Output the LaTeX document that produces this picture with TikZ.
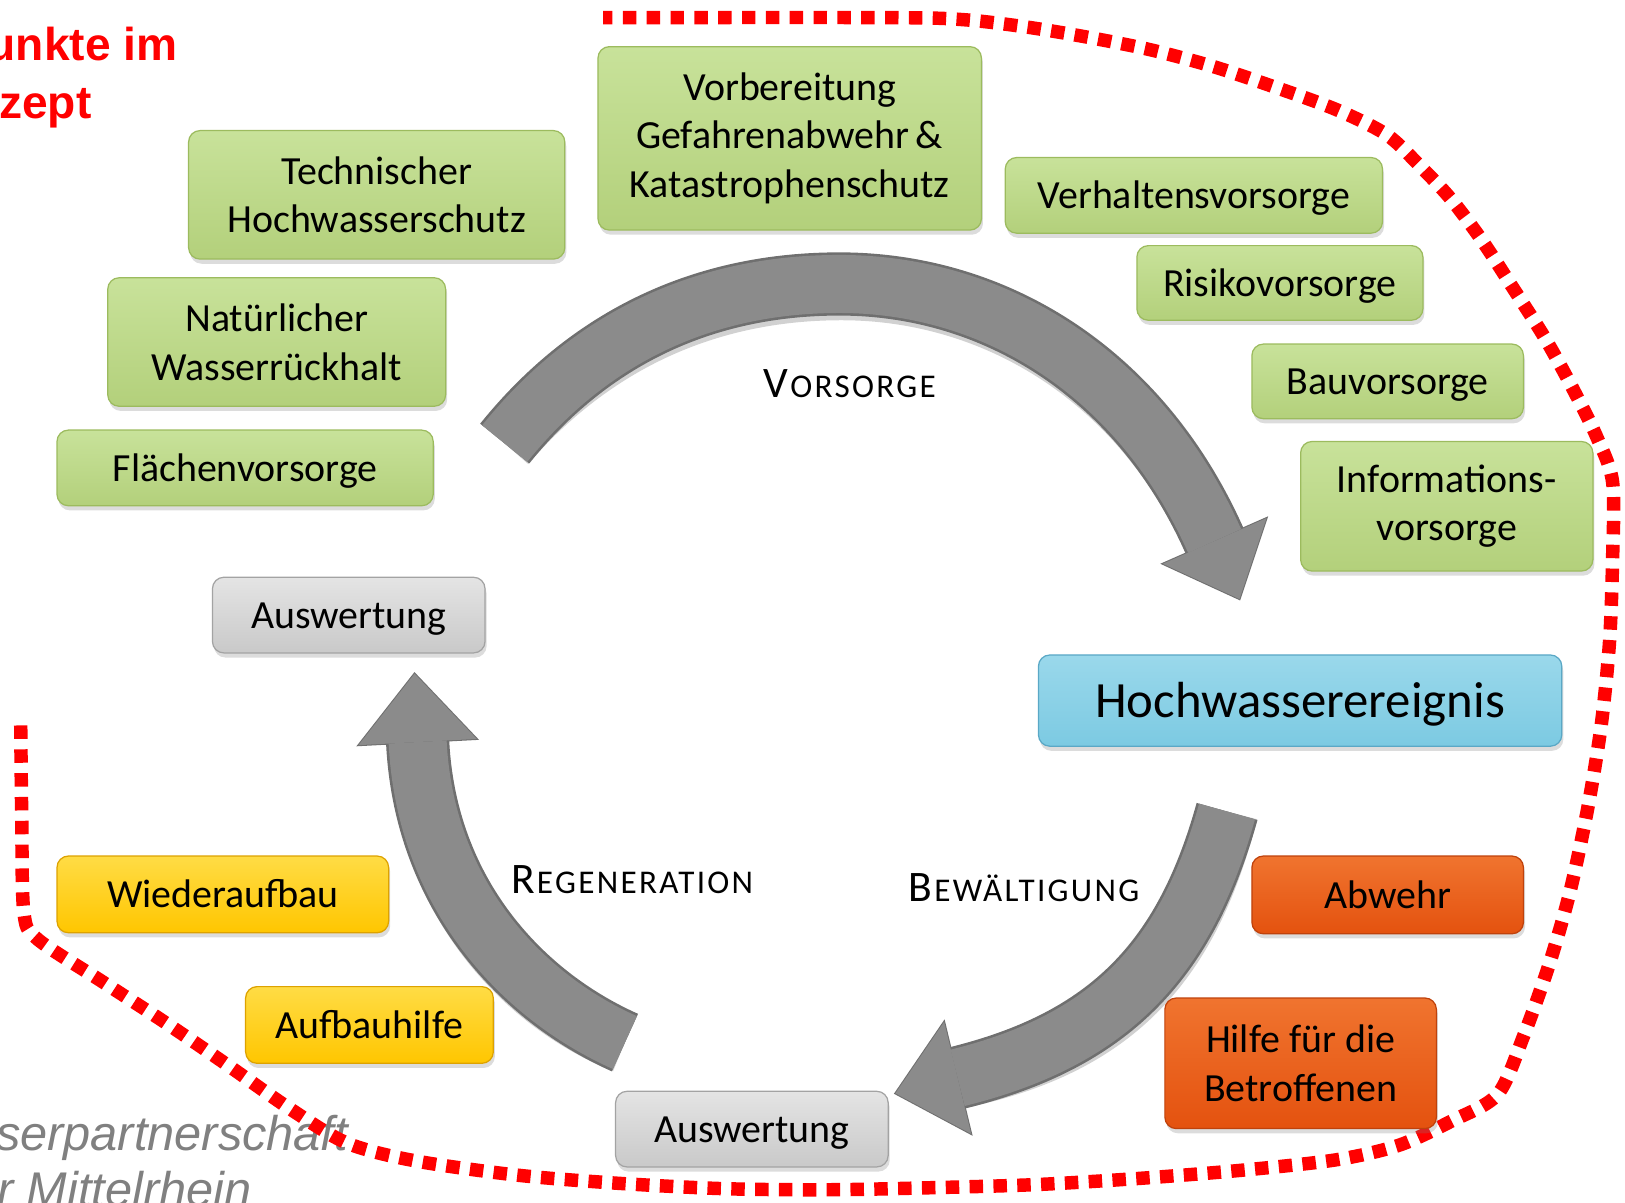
\documentclass[tikz,border=0pt]{standalone}
\usepackage{fontspec}
\setmainfont{Carlito}
\newfontfamily\arialfont{Liberation Sans}
\usetikzlibrary{shadows}
\definecolor{gfill}{HTML}{B3D07B}
\definecolor{gtop}{HTML}{C8E29A}
\definecolor{gdraw}{HTML}{9CBB5E}
\definecolor{bfill}{HTML}{7CCAE2}
\definecolor{btop}{HTML}{9AD8EB}
\definecolor{bdraw}{HTML}{5AA8C6}
\definecolor{yfill}{HTML}{FFC600}
\definecolor{ytop}{HTML}{FFDC45}
\definecolor{ydraw}{HTML}{DDA200}
\definecolor{ofill}{HTML}{E4520F}
\definecolor{otop}{HTML}{F0742F}
\definecolor{odraw}{HTML}{BF420C}
\definecolor{sfill}{HTML}{C9C9C9}
\definecolor{stop}{HTML}{E4E4E4}
\definecolor{sdraw}{HTML}{A3A3A3}
\definecolor{arrowgray}{HTML}{8B8B8B}
\definecolor{arrowedge}{HTML}{6F6F6F}
\definecolor{dotred}{HTML}{FF0000}
\definecolor{footgray}{HTML}{808080}
\newcommand\bxfont{\fontsize{38.5}{47}\selectfont}
\newcommand\bigbxfont{\fontsize{49}{58}\selectfont}
\newcommand\scl[2]{{\fontsize{42}{50}\selectfont #1}\kern2pt{\fontsize{32}{38}\selectfont\addfontfeature{LetterSpace=7}#2}}
\tikzset{
  bx/.style={rounded corners=11pt, line width=1.2pt, align=center, inner sep=0pt,
    text=black, font=\bxfont,
    drop shadow={shadow xshift=1.5pt,shadow yshift=-4.5pt,opacity=0.28}},
  gbx/.style={bx, draw=gdraw, top color=gtop, bottom color=gfill},
  bbx/.style={bx, draw=bdraw, top color=btop, bottom color=bfill, font=\bigbxfont},
  ybx/.style={bx, draw=ydraw, top color=ytop, bottom color=yfill},
  obx/.style={bx, draw=odraw, top color=otop, bottom color=ofill},
  sbx/.style={bx, draw=sdraw, top color=stop, bottom color=sfill},
  oneline/.style={text height=32pt, text depth=6pt},
  redline/.style={draw=dotred, line width=13pt, dash pattern=on 13pt off 10pt},
  lbl/.style={anchor=base, inner sep=0pt, text=black},
  arwshadow/.style={draw=black, opacity=0.18, line width=60pt},
  arwedge/.style={draw=arrowedge, line width=61pt},
  arwbody/.style={draw=arrowgray, line width=56pt},
  ttl/.style={anchor=base west, inner sep=0pt, text=dotred, font=\arialfont\bfseries\fontsize{44.5}{54}\selectfont},
  foot/.style={anchor=base west, inner sep=0pt, text=footgray, font=\arialfont\itshape\fontsize{47}{54}\selectfont}
}
\begin{document}
\begin{tikzpicture}[x=1pt,y=-1pt]
\useasboundingbox (0,0) rectangle (1568,1160);

% title and footer
\node[ttl] (t1) at (-12,58) {unkte im};
\node[ttl] (t2) at (-1,114) {zept};
\node[foot] (f1) at (-4,1110) {serpartnerschaft};
\node[foot] (f2) at (-3,1164) {r Mittelrhein};

% red dotted boundary
\draw[redline] plot[smooth, tension=0.5] coordinates {(20,700) (21,790) (23,880) (36,906) (100,948) (160,987) (220,1028) (280,1070) (335,1103) (400,1120) (500,1134) (600,1142) (700,1147) (800,1148) (900,1146) (1000,1143) (1100,1137) (1200,1129) (1290,1119) (1350,1105) (1400,1082) (1445,1056) (1470,1000) (1495,930) (1515,860) (1532,780) (1545,700) (1553,620) (1556,540) (1556,465) (1540,420) (1515,370) (1490,325) (1460,278) (1430,232) (1400,192) (1370,160) (1338,130) (1290,106) (1230,84) (1170,64) (1110,48) (1050,36) (990,26) (930,19) (860,17) (582,17)};

% cycle arrows: coordinates
\coordinate (vs) at (487,428);
\coordinate (vb) at (1172,522);
\coordinate (vt) at (1196,578);
\coordinate (vl) at (1122,544);
\coordinate (vr) at (1222,500);
\coordinate (rs) at (603,1006);
\coordinate (rb) at (403,716);
\coordinate (rt) at (400,650);
\coordinate (rl) at (346,719);
\coordinate (rr) at (460,713);
\coordinate (bs) at (1184,783);
\coordinate (bb) at (924,1040);
\coordinate (bt) at (864,1055);
\coordinate (bl) at (911,986);
\coordinate (br) at (937,1094);

% shadows
\begin{scope}[shift={(2,5)}]
\draw[arwshadow] (vs) .. controls (570,325) and (680,274) .. (810,274) .. controls (960,274) and (1100,360) .. (vb);
\fill[black, opacity=0.18] (vl) -- (vt) -- (vr) -- cycle;
\draw[arwshadow] (rs) .. controls (500,960) and (410,860) .. (rb);
\fill[black, opacity=0.18] (rl) -- (rt) -- (rr) -- cycle;
\draw[arwshadow] (bs) .. controls (1143.5,928.5) and (1069.5,1004) .. (bb);
\fill[black, opacity=0.18] (bl) -- (bt) -- (br) -- cycle;
\end{scope}

% Vorsorge arrow
\draw[arwedge] (vs) .. controls (570,325) and (680,274) .. (810,274) .. controls (960,274) and (1100,360) .. (vb);
\filldraw[arrowedge, line width=2pt, line join=miter] (vl) -- (vt) -- (vr) -- cycle;
\draw[arwbody] (vs) .. controls (570,325) and (680,274) .. (810,274) .. controls (960,274) and (1100,360) .. (vb);
\fill[arrowgray] (vl) -- (vt) -- (vr) -- cycle;

% Regeneration arrow
\draw[arwedge] (rs) .. controls (500,960) and (410,860) .. (rb);
\filldraw[arrowedge, line width=2pt, line join=miter] (rl) -- (rt) -- (rr) -- cycle;
\draw[arwbody] (rs) .. controls (500,960) and (410,860) .. (rb);
\fill[arrowgray] (rl) -- (rt) -- (rr) -- cycle;

% Bewaeltigung arrow
\draw[arwedge] (bs) .. controls (1143.5,928.5) and (1069.5,1004) .. (bb);
\filldraw[arrowedge, line width=2pt, line join=miter] (bl) -- (bt) -- (br) -- cycle;
\draw[arwbody] (bs) .. controls (1143.5,928.5) and (1069.5,1004) .. (bb);
\fill[arrowgray] (bl) -- (bt) -- (br) -- cycle;

% labels
\node[lbl] (lvor) at (820,384) {\scl{V}{ORSORGE}};
\node[lbl] (lreg) at (610,862) {\scl{R}{EGENERATION}};
\node[lbl] (lbew) at (988,870) {\scl{B}{EWÄLTIGUNG}};

% green boxes
\node[gbx, minimum width=370pt, minimum height=177pt] (vorb) at (762,133.5) {Vorbereitung\\Gefahrenabwehr\,\&\\Katastrophenschutz};
\node[gbx, minimum width=363pt, minimum height=124pt] (tech) at (363.5,188) {Technischer\\Hochwasserschutz};
\node[gbx, oneline, minimum width=364pt, minimum height=73pt] (verh) at (1152,188.5) {Verhaltensvorsorge};
\node[gbx, oneline, minimum width=276pt, minimum height=72pt] (risk) at (1235,273) {Risikovorsorge};
\node[gbx, minimum width=326pt, minimum height=124pt] (natu) at (267,330) {Natürlicher\\Wasserrückhalt};
\node[gbx, oneline, minimum width=262pt, minimum height=72pt] (bauv) at (1339,368) {Bauvorsorge};
\node[gbx, oneline, minimum width=363pt, minimum height=73pt] (flae) at (236.5,451.5) {Flächenvorsorge};
\node[gbx, minimum width=282pt, minimum height=125pt] (info) at (1396,488.5) {Informations-\\vorsorge};

% grey boxes
\node[sbx, oneline, minimum width=263pt, minimum height=73pt] (ausa) at (336.5,593.5) {Auswertung};
\node[sbx, oneline, minimum width=263pt, minimum height=73pt] (ausb) at (725.5,1089.5) {Auswertung};

% blue box
\node[bbx, minimum width=505pt, minimum height=88pt, text height=38pt, text depth=5pt] (hoch) at (1254.5,676) {Hochwasserereignis};

% yellow boxes
\node[ybx, minimum width=320pt, minimum height=74pt, text height=30pt, text depth=4pt] (wied) at (215,863) {Wiederaufbau};
\node[ybx, minimum width=239pt, minimum height=74pt, text height=30pt, text depth=4pt] (aufb) at (356.5,989) {Aufbauhilfe};

% orange boxes
\node[obx, minimum width=262pt, minimum height=75pt, text height=30pt, text depth=4pt] (abwe) at (1339,863.5) {Abwehr};
\node[obx, minimum width=262pt, minimum height=126pt] (hilf) at (1255,1026) {Hilfe für die\\Betroffenen};
\end{tikzpicture}
\end{document}
